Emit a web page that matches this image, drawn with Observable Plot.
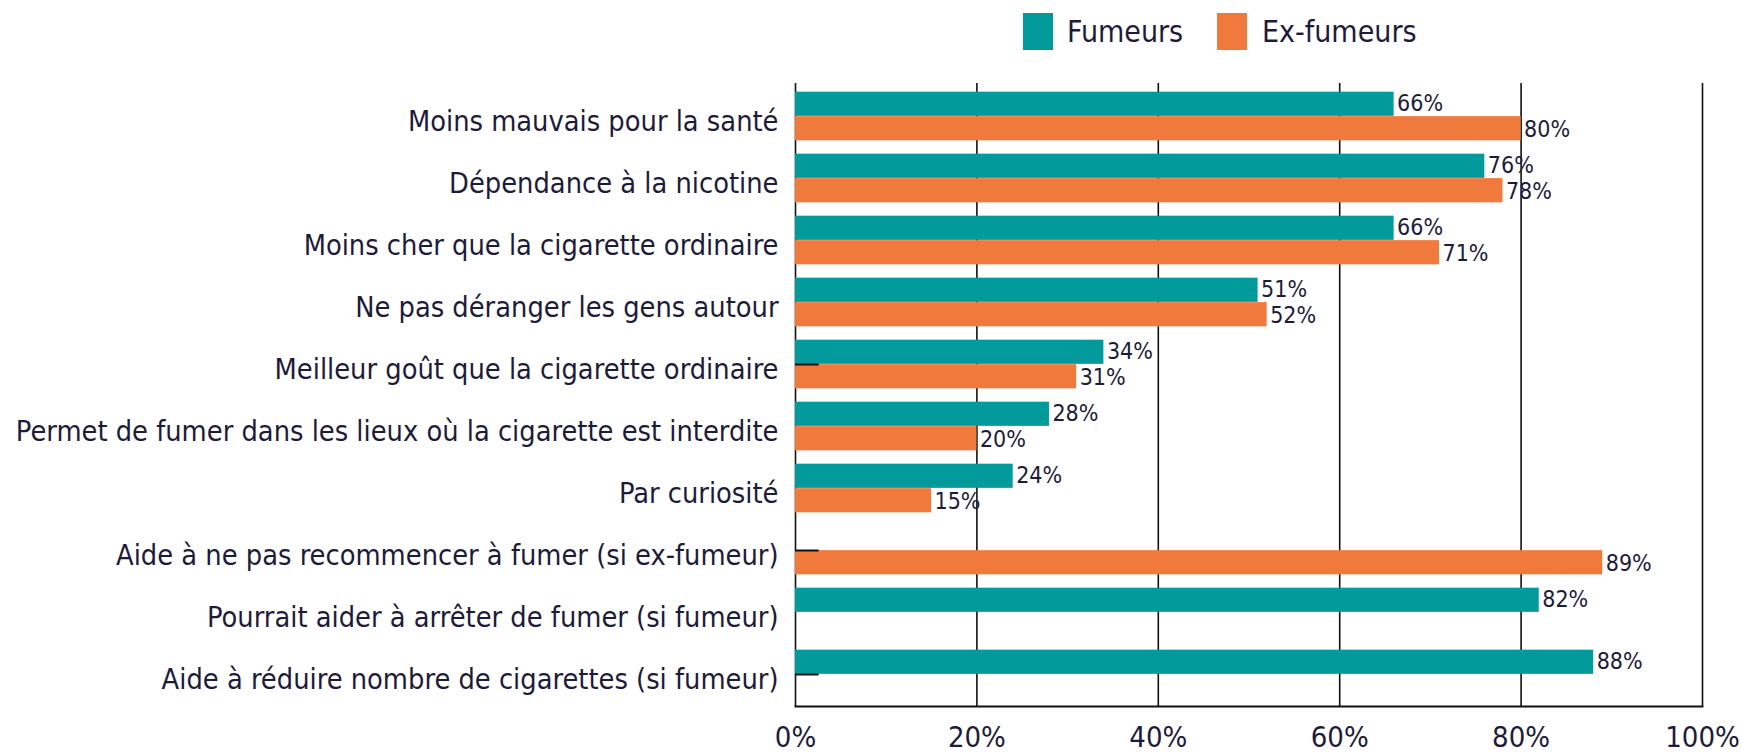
<!DOCTYPE html>
<html><head><meta charset="utf-8">
<script src="https://cdn.jsdelivr.net/npm/d3@7"></script>
<script src="https://cdn.jsdelivr.net/npm/@observablehq/plot@0.6"></script>
<style>
body{margin:0;background:#fff;font-family:"Liberation Sans Narrow","DejaVu Sans Condensed",Roboto,sans-serif;color:#1e1b3a}
#legend{position:relative;height:63px;width:1742px}
.sw{position:absolute;top:13px;width:30px;height:37px}
.lt{position:absolute;top:11px;font-size:30px;line-height:42px;white-space:nowrap}
#chart svg{display:block}
</style></head><body>
<div id="legend"></div>
<div id="chart"></div>
<script>
const categories = [
  "Moins mauvais pour la santé",
  "Dépendance à la nicotine",
  "Moins cher que la cigarette ordinaire",
  "Ne pas déranger les gens autour",
  "Meilleur goût que la cigarette ordinaire",
  "Permet de fumer dans les lieux où la cigarette est interdite",
  "Par curiosité",
  "Aide à ne pas recommencer à fumer (si ex-fumeur)",
  "Pourrait aider à arrêter de fumer (si fumeur)",
  "Aide à réduire nombre de cigarettes (si fumeur)"
];
const fumeurs   = [66, 76, 66, 51, 34, 28, 24, null, 82, 88];
const exFumeurs = [80, 78, 71, 52, 31, 20, 15, 89, null, null];
const seriesNames = ["Fumeurs", "Ex-fumeurs"];
const seriesColors = ["#029a9a", "#ef7a3c"];
const xTicks = [0, 20, 40, 60, 80, 100];
// small stray tick marks visible at the left axis in the reference
const strayTickRows = [
  "Meilleur goût que la cigarette ordinaire",
  "Aide à ne pas recommencer à fumer (si ex-fumeur)",
  "Aide à réduire nombre de cigarettes (si fumeur)"
];

const rowsF = categories.map((c, i) => ({cat: c, value: fumeurs[i]})).filter(d => d.value != null);
const rowsE = categories.map((c, i) => ({cat: c, value: exFumeurs[i]})).filter(d => d.value != null);

// legend
const legend = document.getElementById("legend");
const legendPos = [[1023, 1067], [1217, 1262]];
seriesNames.forEach((name, i) => {
  const sw = document.createElement("div");
  sw.className = "sw"; sw.style.left = legendPos[i][0] + "px"; sw.style.background = seriesColors[i];
  const t = document.createElement("div");
  t.className = "lt"; t.style.left = legendPos[i][1] + "px"; t.textContent = name;
  legend.append(sw, t);
});

const H = 693, MT = 20, MB = 50;
const step = (H - MT - MB) / categories.length;
const barH = step * 0.393;
const outer = (step - 2 * barH) / 2;

const chart = Plot.plot({
  width: 1742, height: H,
  marginLeft: 795, marginRight: 40, marginTop: MT, marginBottom: MB,
  style: {fontFamily: '"Liberation Sans Narrow","DejaVu Sans Condensed",Roboto,sans-serif', color: "#1e1b3a", background: "#fff"},
  x: {domain: [0, 100], axis: null},
  y: {domain: categories, padding: 0, axis: null},
  marks: [
    Plot.ruleX(xTicks, {stroke: "#111", strokeWidth: 1.6}),
    Plot.frame({anchor: "bottom", stroke: "#111", strokeWidth: 2}),
    Plot.barX(rowsF, {x: "value", y: "cat", fill: seriesColors[0], insetTop: outer, insetBottom: outer + barH}),
    Plot.barX(rowsE, {x: "value", y: "cat", fill: seriesColors[1], insetTop: outer + barH, insetBottom: outer}),
    Plot.ruleY(strayTickRows, {y: d => d, x1: 0, x2: 2.6, stroke: "#111", strokeWidth: 2}),
    Plot.text(rowsF, {x: "value", y: "cat", text: d => d.value + "%", dx: 3, dy: -barH / 2 - 0.5, textAnchor: "start", fontSize: 23, fill: "#1e1b3a"}),
    Plot.text(rowsE, {x: "value", y: "cat", text: d => d.value + "%", dx: 3, dy: barH / 2 + 0.5, textAnchor: "start", fontSize: 23, fill: "#1e1b3a"}),
    Plot.axisY({tickSize: 0, tickPadding: 17, fontSize: 28.7, dy: 5, label: null}),
    Plot.axisX(xTicks, {tickSize: 0, tickPadding: 20, fontSize: 29, tickFormat: d => d + "%", label: null})
  ]
});
document.getElementById("chart").append(chart);
</script>
</body></html>
